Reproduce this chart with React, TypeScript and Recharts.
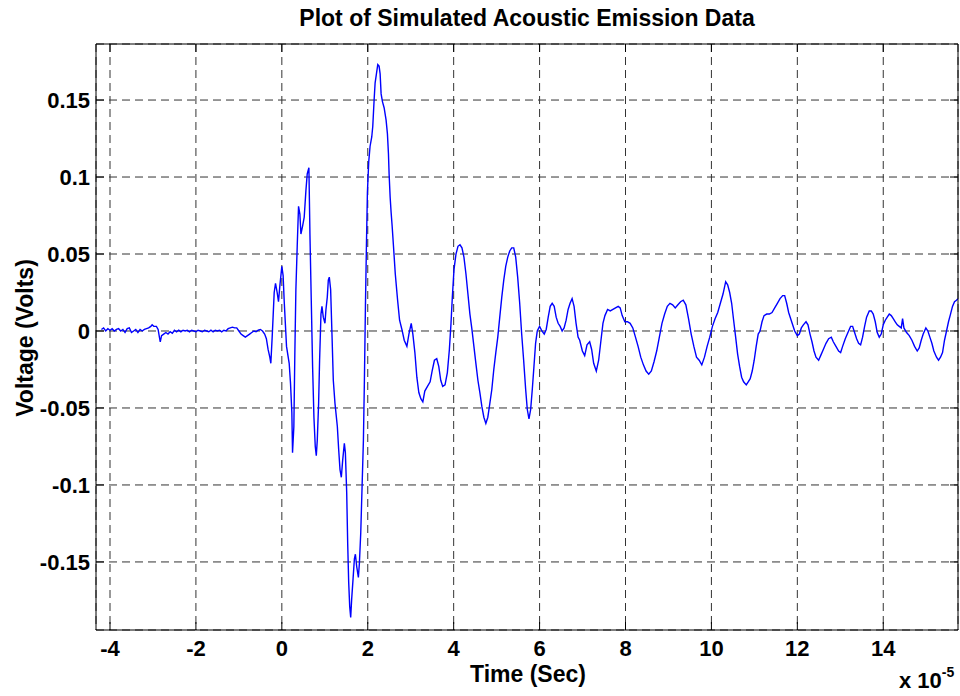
import React from 'react';
import { LineChart, Line, XAxis, YAxis, CartesianGrid } from 'recharts';

// time is in units of 1e-5 s (axis shows "x 10^-5"), voltage in volts
const xTicks = [-4, -2, 0, 2, 4, 6, 8, 10, 12, 14];
const yTicks = [-0.15, -0.1, -0.05, 0, 0.05, 0.1, 0.15];
const xDomain = [-4.326, 15.74];
const yDomain = [-0.1942, 0.1864];

// quiet baseline before the event
const preTime = [
  -4.2, -4.15, -4.1, -4.05, -4.0, -3.95, -3.9, -3.85, -3.8, -3.75, -3.7, -3.65, -3.6, -3.55, -3.5,
  -3.45, -3.4, -3.35, -3.3, -3.25, -3.2, -3.15, -3.1, -3.05, -3.02, -2.98, -2.92, -2.88, -2.85, -2.83,
  -2.8, -2.75, -2.7, -2.65, -2.6, -2.55, -2.5, -2.45, -2.4, -2.35, -2.3, -2.25, -2.2, -2.15, -2.1,
  -2.05, -2.0, -1.95, -1.9, -1.85, -1.8, -1.75, -1.7, -1.65, -1.6, -1.55, -1.5, -1.45, -1.4, -1.35,
  -1.3, -1.25, -1.2, -1.15, -1.1, -1.05, -1.0, -0.95, -0.9, -0.85, -0.8, -0.75, -0.7, -0.65, -0.6,
  -0.55, -0.5, -0.45, -0.4, -0.36, -0.32, -0.28,
];
const preVolts = [
  0.001, 0.002, 0.0, 0.0015, 0.0005, 0.0015, 0.0, 0.001, 0.0015, 0.0, 0.001, -0.001, 0.0015, 0.002, -0.001,
  0.0, 0.001, -0.001, 0.001, 0.0, 0.001, 0.0015, 0.002, 0.003, 0.004, 0.003, 0.003, 0.001, -0.004, -0.007,
  -0.003, -0.002, -0.001, -0.002, -0.0005, -0.0015, 0.0005, -0.0005, 0.0005, -0.0005, 0.0005, 0.0, 0.0005, -0.0005, 0.0005,
  0.0, -0.0005, 0.0005, 0.0, -0.0005, 0.0005, 0.0, -0.0005, 0.0005, -0.0005, 0.0005, 0.0, 0.0005, -0.0005, 0.0005,
  0.0, 0.0015, 0.002, 0.0025, 0.002, 0.002, 0.0, -0.002, -0.003, -0.004, -0.003, -0.002, -0.001, 0.0, -0.0005,
  0.0005, 0.001, 0.0, -0.002, -0.005, -0.012, -0.017,
];

// main burst
const burstTime = [
  -0.256, -0.225, -0.202, -0.178, -0.147, -0.109, -0.078, -0.047, 0.0, 0.03, 0.054, 0.109, 0.171, 0.202,
  0.233, 0.249, 0.28, 0.303, 0.327, 0.358, 0.389, 0.42, 0.444, 0.482, 0.521, 0.56, 0.591, 0.63, 0.654,
  0.685, 0.716, 0.747, 0.778, 0.802, 0.825, 0.856, 0.879, 0.911, 0.934, 0.965, 1.004, 1.027, 1.058,
  1.082, 1.105, 1.136, 1.167, 1.198, 1.237, 1.292, 1.323, 1.354, 1.385, 1.416, 1.455, 1.479, 1.51,
  1.533, 1.556, 1.58, 1.603, 1.626, 1.658, 1.689, 1.712, 1.743, 1.782, 1.805, 1.837, 1.868, 1.899,
  1.922, 1.946, 1.969, 1.992, 2.023, 2.054, 2.093, 2.117, 2.148, 2.171, 2.202, 2.233, 2.264, 2.288,
  2.311, 2.342, 2.381, 2.427, 2.458, 2.482, 2.497, 2.521, 2.544,
];
const burstVolts = [
  -0.021, -0.004, 0.01, 0.025, 0.031, 0.025, 0.019, 0.029, 0.042, 0.036, 0.02, -0.01, -0.021, -0.034,
  -0.053, -0.079, -0.062, -0.014, 0.027, 0.055, 0.081, 0.076, 0.063, 0.068, 0.074, 0.091, 0.102, 0.106, 0.063,
  0.02, -0.023, -0.056, -0.075, -0.081, -0.071, -0.047, -0.019, 0.011, 0.016, 0.009, 0.005, 0.014, 0.022,
  0.033, 0.035, 0.027, -0.002, -0.032, -0.047, -0.062, -0.077, -0.09, -0.095, -0.084, -0.073, -0.079, -0.105,
  -0.138, -0.163, -0.179, -0.186, -0.174, -0.161, -0.148, -0.145, -0.153, -0.16, -0.151, -0.131, -0.101, -0.071,
  -0.032, 0.016, 0.055, 0.09, 0.11, 0.12, 0.126, 0.133, 0.15, 0.161, 0.167, 0.173, 0.172, 0.167,
  0.154, 0.149, 0.145, 0.137, 0.128, 0.115, 0.102, 0.087, 0.077,
];

// ringing after the burst
const ringTime = [
  2.568, 2.599, 2.641, 2.695, 2.741, 2.795, 2.849, 2.911, 2.958, 3.012, 3.05, 3.097, 3.143, 3.189, 3.236,
  3.282, 3.328, 3.39, 3.452, 3.498, 3.552, 3.606, 3.653, 3.699, 3.745, 3.799, 3.853, 3.9, 3.938, 3.969,
  4.008, 4.054, 4.1, 4.147, 4.193, 4.239, 4.286, 4.332, 4.378, 4.425, 4.471, 4.517, 4.564, 4.61, 4.656,
  4.703, 4.749, 4.795, 4.842, 4.888, 4.934, 4.981, 5.027, 5.073, 5.12, 5.166, 5.212, 5.259, 5.305, 5.351,
  5.398, 5.444, 5.49, 5.537, 5.583, 5.629, 5.676, 5.714, 5.753, 5.792, 5.83, 5.869, 5.907, 5.946, 6.0,
  6.054, 6.108, 6.154, 6.201, 6.247, 6.293, 6.34, 6.386, 6.432, 6.479, 6.525, 6.571, 6.618, 6.664, 6.71,
  6.757, 6.803, 6.849, 6.896,
];
const ringVolts = [
  0.068, 0.055, 0.037, 0.02, 0.007, 0.001, -0.006, -0.01, -0.002, 0.005, -0.002, -0.014, -0.03, -0.04, -0.044,
  -0.046, -0.039, -0.036, -0.033, -0.026, -0.019, -0.018, -0.023, -0.032, -0.036, -0.035, -0.027, -0.012, 0.005, 0.022,
  0.04, 0.05, 0.055, 0.056, 0.054, 0.048, 0.037, 0.024, 0.011, 0.001, -0.01, -0.021, -0.032, -0.04, -0.049,
  -0.056, -0.06, -0.056, -0.047, -0.038, -0.025, -0.014, -0.004, 0.009, 0.022, 0.033, 0.042, 0.048, 0.052, 0.054,
  0.054, 0.048, 0.035, 0.018, -0.002, -0.019, -0.038, -0.051, -0.057, -0.051, -0.038, -0.023, -0.008, 0.0, 0.003,
  0.0, -0.002, 0.001, 0.009, 0.016, 0.018, 0.016, 0.009, 0.005, 0.003, 0.0, 0.002, 0.007, 0.014, 0.018,
  0.021, 0.016, 0.005, -0.004,
];

// decaying tail
const tailTime = [
  6.934, 6.996, 7.05, 7.104, 7.166, 7.212, 7.259, 7.32, 7.375, 7.429, 7.475, 7.521, 7.583, 7.645, 7.707,
  7.768, 7.83, 7.876, 7.923, 7.985, 8.046, 8.108, 8.17, 8.232, 8.293, 8.355, 8.417, 8.479, 8.541, 8.602,
  8.664, 8.726, 8.788, 8.849, 8.911, 8.973, 9.035, 9.097, 9.158, 9.22, 9.282, 9.344, 9.405, 9.467, 9.529,
  9.591, 9.653, 9.714, 9.776, 9.838, 9.9, 9.961, 10.023, 10.085, 10.147, 10.208, 10.27, 10.332, 10.378,
  10.425, 10.471, 10.517, 10.564, 10.61, 10.656, 10.703, 10.749, 10.811, 10.857, 10.903, 10.95, 10.996,
  11.042, 11.089, 11.132, 11.178, 11.225, 11.287, 11.349, 11.411, 11.473, 11.535, 11.597, 11.659, 11.705,
  11.752, 11.798, 11.845, 11.891, 11.938, 12.0, 12.047, 12.093, 12.14, 12.202, 12.248, 12.295, 12.341,
  12.388, 12.434, 12.496, 12.543, 12.605, 12.667, 12.729, 12.791, 12.837, 12.899, 12.961, 13.008, 13.054,
  13.116, 13.178, 13.24, 13.287, 13.333, 13.38, 13.426, 13.473, 13.519, 13.566, 13.612, 13.674, 13.721,
  13.767, 13.814, 13.86, 13.907, 13.953, 14.0, 14.047, 14.093, 14.14, 14.186, 14.233, 14.279, 14.326,
  14.372, 14.419, 14.45, 14.481, 14.543, 14.605, 14.667, 14.729, 14.791, 14.837, 14.884, 14.93, 14.992,
  15.039, 15.085, 15.132, 15.178, 15.24, 15.287, 15.333, 15.38, 15.426, 15.473, 15.519, 15.566, 15.612,
  15.659, 15.705, 15.74,
];
const tailVolts = [
  -0.006, -0.013, -0.016, -0.009, -0.007, -0.012, -0.021, -0.026, -0.019, -0.006, 0.005, 0.01, 0.014, 0.013, 0.014,
  0.015, 0.016, 0.015, 0.01, 0.006, 0.006, 0.005, 0.002, -0.004, -0.01, -0.017, -0.022, -0.026, -0.028, -0.026,
  -0.02, -0.013, -0.004, 0.005, 0.011, 0.016, 0.018, 0.017, 0.015, 0.017, 0.019, 0.02, 0.017, 0.008, -0.002,
  -0.01, -0.017, -0.019, -0.022, -0.017, -0.01, -0.004, 0.003, 0.008, 0.012, 0.018, 0.024, 0.032, 0.03,
  0.025, 0.018, 0.007, -0.004, -0.015, -0.023, -0.03, -0.033, -0.035, -0.033, -0.031, -0.026, -0.019,
  -0.01, -0.002, 0.0, 0.006, 0.01, 0.011, 0.011, 0.012, 0.015, 0.018, 0.021, 0.023, 0.023,
  0.018, 0.012, 0.008, 0.004, 0.0, -0.003, -0.002, 0.002, 0.004, 0.006, 0.004, -0.002, -0.007,
  -0.013, -0.017, -0.019, -0.016, -0.012, -0.008, -0.005, -0.004, -0.007, -0.01, -0.013, -0.014, -0.01,
  -0.005, -0.001, 0.003, 0.003, -0.001, -0.005, -0.008, -0.009, -0.004, 0.003, 0.009, 0.013, 0.013,
  0.011, 0.006, -0.001, -0.004, -0.002, 0.004, 0.007, 0.009, 0.011, 0.01, 0.008, 0.006, 0.004,
  0.003, 0.002, 0.008, 0.002, -0.001, -0.003, -0.006, -0.01, -0.013, -0.011, -0.006, -0.002, 0.002,
  0.0, -0.004, -0.008, -0.013, -0.017, -0.019, -0.017, -0.014, -0.006, 0.0, 0.006, 0.011, 0.016,
  0.019, 0.02, 0.021,
];

const segments: [number[], number[]][] = [
  [preTime, preVolts],
  [burstTime, burstVolts],
  [ringTime, ringVolts],
  [tailTime, tailVolts],
];
const data = segments.flatMap(([ts, vs]) => ts.map((t, i) => ({ t, v: vs[i] })));

const FONT = '"Liberation Sans", Arial, Helvetica, sans-serif';
const tickStyle = { fill: '#000', fontSize: 22, fontWeight: 700, fontFamily: FONT };
const blank = () => '';

export default function App() {
  return (
    <div style={{ position: 'absolute', left: 0, top: 0, width: 960, height: 696, background: '#fff' }}>
      <LineChart width={960} height={696} data={data} margin={{ top: 43, right: 1, bottom: 0, left: 0 }}>
        <CartesianGrid stroke="#333" strokeDasharray="8 5" />
        <XAxis type="number" dataKey="t" domain={xDomain} ticks={xTicks} allowDataOverflow
          height={66} tickSize={-8} tickMargin={18} stroke="#000" tick={tickStyle} />
        <XAxis xAxisId="top" orientation="top" type="number" dataKey="t" domain={xDomain} ticks={xTicks}
          allowDataOverflow height={1} tickSize={-8} stroke="#000" tickFormatter={blank} />
        <YAxis type="number" domain={yDomain} ticks={yTicks} allowDataOverflow
          width={96} tickSize={-8} tickMargin={14} stroke="#000" tick={tickStyle} />
        <YAxis yAxisId="right" orientation="right" type="number" domain={yDomain} ticks={yTicks}
          allowDataOverflow width={1} tickSize={-8} stroke="#000" tickFormatter={blank} />
        <Line type="linear" dataKey="v" stroke="#0000ff" strokeWidth={1.4} dot={false}
          isAnimationActive={false} />
        <text x={527} y={26} textAnchor="middle" fontSize={23} fontWeight={700} fontFamily={FONT}>
          Plot of Simulated Acoustic Emission Data
        </text>
        <text transform="translate(33, 338) rotate(-90)" textAnchor="middle" fontSize={23} fontWeight={700}
          fontFamily={FONT}>
          Voltage (Volts)
        </text>
        <text x={528} y={682} textAnchor="middle" fontSize={23} fontWeight={700} fontFamily={FONT}>
          Time (Sec)
        </text>
        <text x={899} y={688} fontSize={22} fontWeight={700} fontFamily={FONT}>
          x 10<tspan dy={-11} fontSize={14}>-5</tspan>
        </text>
      </LineChart>
    </div>
  );
}
